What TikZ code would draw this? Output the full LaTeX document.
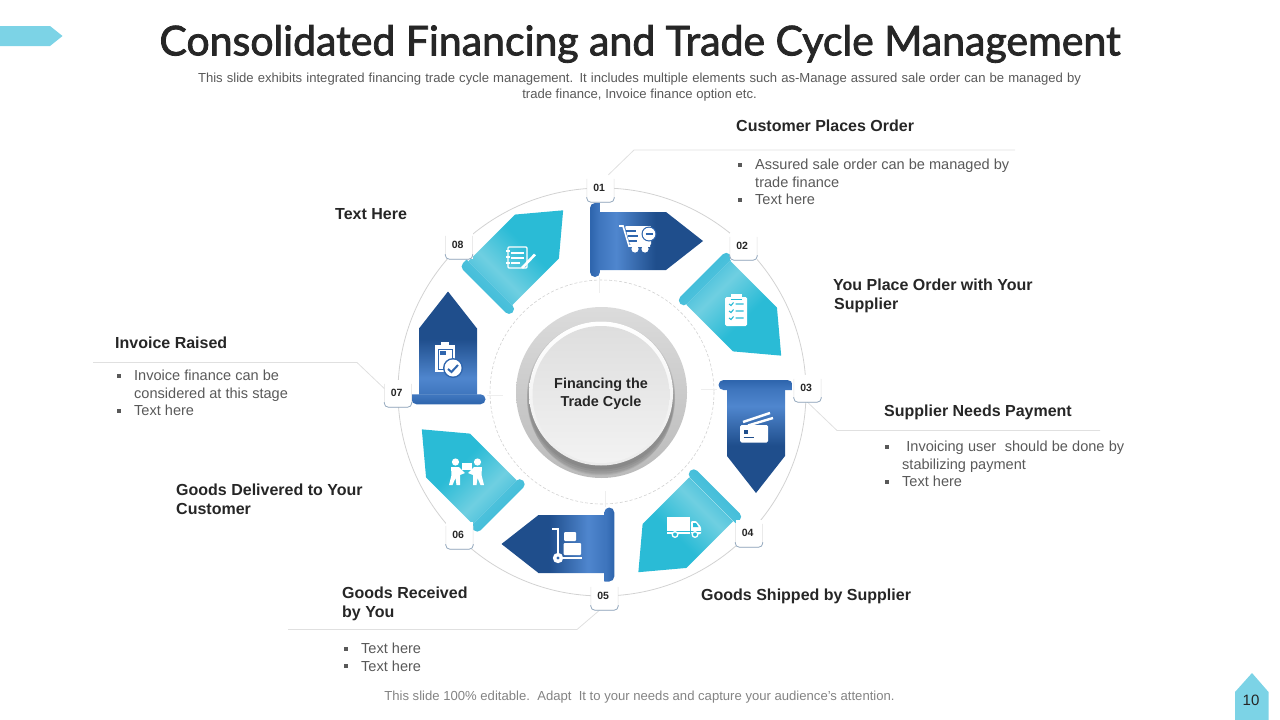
\documentclass[tikz,border=0pt]{standalone}
\usepackage{fontspec}
\setmainfont{Liberation Sans}
\newfontfamily\titlefont[FakeBold=2]{Lato}
\usepackage{xcolor}
\usetikzlibrary{arrows.meta,calc}
\definecolor{blueDark}{HTML}{1F4E8C}
\definecolor{blueMid}{HTML}{2F66AE}
\definecolor{blueStart}{HTML}{3F76BE}
\definecolor{blueLight}{HTML}{4F86CE}
\definecolor{tealDark}{HTML}{2ABBD6}
\definecolor{tealMid}{HTML}{3CBAD8}
\definecolor{tealStart}{HTML}{55C5DD}
\definecolor{tealLight}{HTML}{6FCFE1}
\definecolor{tagcyan}{HTML}{7CD3E6}
\definecolor{bodygrey}{HTML}{595959}
\definecolor{headgrey}{HTML}{262626}
\definecolor{ringgrey}{HTML}{D2D2D2}
\definecolor{leadgrey}{HTML}{E0E0E0}
\definecolor{edgeblue}{HTML}{8FA6BD}
\pgfdeclarehorizontalshading{bodyblue}{100bp}{color(0bp)=(blueStart); color(25bp)=(blueStart); color(33bp)=(blueLight); color(52bp)=(blueDark); color(100bp)=(blueDark)}
\pgfdeclarehorizontalshading{bodyteal}{100bp}{color(0bp)=(tealStart); color(30bp)=(tealStart); color(38bp)=(tealLight); color(58bp)=(tealDark); color(100bp)=(tealDark)}
\pgfdeclarehorizontalshading{bandblue}{100bp}{color(0bp)=(blueMid); color(30bp)=(blueMid); color(70bp)=(blueStart); color(100bp)=(blueStart)}
\pgfdeclarehorizontalshading{bandteal}{100bp}{color(0bp)=(tealMid); color(35bp)=(tealMid); color(65bp)=(tealStart); color(100bp)=(tealStart)}
\newcommand{\sqitem}{\makebox[17pt][l]{\rule[.22em]{3.7pt}{3.7pt}}}
\begin{document}
\begin{tikzpicture}[x=1pt,y=-1pt,
    every node/.style={inner sep=0pt},
    headtext/.style={anchor=west, align=left, text=headgrey, font=\fontsize{16}{19}\selectfont\bfseries},
    bodytext/.style={anchor=north west, align=left, text=bodygrey, font=\fontsize{14.55}{17.5}\selectfont},
    numbox/.style={fill=white, minimum size=27pt},
    leader/.style={draw=leadgrey, line width=0.8pt},
    whitefill/.style={fill=white, draw=none}
]
\useasboundingbox (0,0) rectangle (1280,720);
\fill[tagcyan] (0,26) -- (50,26) -- (62.5,36) -- (50,46) -- (0,46) -- cycle;
\fill[tagcyan] (1235,720) -- (1235,692) -- (1252,673) -- (1268.5,692) -- (1268.5,720) -- cycle;
\node[text=headgrey, font=\fontsize{15}{18}\selectfont] (pagenum) at (1251,700.5) {10};
\node[text=headgrey, font=\fontsize{41}{46}\titlefont] (title) at (640,44) {Consolidated Financing and Trade Cycle Management};
\node[text=bodygrey, align=center, font=\fontsize{13.1}{16}\selectfont] (subtitle) at (639.5,87) {\makebox[883pt][s]{This slide exhibits integrated financing trade cycle management. It includes multiple elements such as-Manage assured sale order can be managed by}\\trade finance, Invoice finance option etc.};
\node[text=bodygrey!75, font=\fontsize{13.1}{15}\selectfont] (footnote) at (639.5,697) {This slide 100\% editable.\ \ Adapt\ \ It to your needs and capture your audience's attention.};

\draw[ringgrey, line width=0.8pt] (602,392) circle (204);
\draw[ringgrey, line width=0.6pt, dash pattern=on 3pt off 2pt] (602,392) circle (112);
\foreach \ang in {0,90,180,270}
    \draw[leadgrey!55, line width=0.6pt, shift={(602,392)}, rotate=-\ang] (-3,-115) -- (-3,-99);

\foreach \ang/\bodyshade/\bandshade/\dx/\dy/\gr in {0/bodyblue/bandblue/0/0/0,45/bodyteal/bandteal/1/-1/2,90/bodyblue/bandblue/3/0/0,135/bodyteal/bandteal/1/2/2,180/bodyblue/bandblue/0.5/1/0,225/bodyteal/bandteal/-2/2/2,270/bodyblue/bandblue/-3/0.5/0,315/bodyteal/bandteal/-3.5/-3.5/2}{
    \begin{scope}[shift={(602+\dx,392+\dy)}, rotate=-\ang]
        \shade[shading=\bodyshade, shading angle=-\ang] (-2,-180-\gr) -- (64,-180-\gr) -- (101,-151) -- (64,-122+\gr) -- (-2,-122+\gr) -- cycle;
    \end{scope}
    \begin{scope}[shift={(602+\dx/2,392+\dy/2)}, rotate=-\ang]
        \shade[shading=\bandshade, shading angle=-\ang, rounded corners=5pt] (-2,-189+\gr) -- (-12,-189+\gr) -- (-12,-115-\gr) -- (-2,-115-\gr) [sharp corners] -- cycle;
    \end{scope}
}

\shade[top color=black!14, bottom color=black!27] (601.5,392.5) circle (85.5);
\foreach \off/\rad in {10/72,8/73,6/74,4/74,2/74}
    \fill[black, opacity=0.06] (601,393.5+\off) circle (\rad);
\shade[top color=white, bottom color=black!8] (601,393.5) circle (72);
\shade[top color=black!13, bottom color=black!5] (601,394.5) circle (68.5);
\node[align=center, text=headgrey, font=\fontsize{14.4}{18}\selectfont\bfseries] (hub) at (601,393.5) {Financing the\\Trade Cycle};

\foreach \nm/\px/\py in {1/600.5/188.5,2/743.5/246.5,3/807.5/388.5,4/749/533.5,5/604.5/596.5,6/459.5/535.5,7/398/393.5,8/459/245.5}
    \node[numbox] (num\nm) at (\px,\py) {};

\coordinate (knee1) at (634,150); \coordinate (end1) at (1015,150);
\coordinate (knee3) at (837,430.5); \coordinate (end3) at (1100,430.5);
\coordinate (knee5) at (577,629.5); \coordinate (end5) at (288,629.5);
\coordinate (knee7) at (357,362.5); \coordinate (end7) at (93,362.5);
\draw[leader] (num1.60) -- (knee1) -- (end1);
\draw[leader] (num3.south) -- (knee3) -- (end3);
\draw[leader] (num5.-110) -- (knee5) -- (end5);
\draw[leader] (num7.160) -- (knee7) -- (end7);

\foreach \nm in {1,...,8}{
    \draw[ringgrey!70, line width=0.5pt, rounded corners=4pt] ($(num\nm.north west)+(0,4)$) -- (num\nm.south west) -- (num\nm.south east) -- ($(num\nm.north east)+(0,4)$);
    \draw[edgeblue, line width=0.7pt, rounded corners=4pt] ($(num\nm.south west)+(0,-5)$) -- (num\nm.south west) -- (num\nm.south east) -- ($(num\nm.south east)+(0,-5)$);
    \node[text=headgrey, font=\fontsize{10.5}{12}\selectfont\bfseries] (lbl\nm) at ($(num\nm)+(-1.3,-0.5)$) {0\nm};
}

\node[headtext] (head1) at (736,126) {Customer Places Order};
\node[headtext] (head2) at (833,296) {You Place Order with Your\\[0pt]\hspace*{1pt}Supplier};
\node[headtext] (head3) at (884,412.7) {Supplier Needs Payment};
\node[headtext] (head4) at (701,596.7) {Goods Shipped by Supplier};
\node[headtext] (head5) at (342,604) {Goods Received\\by You};
\node[headtext] (head6) at (176,499.4) {Goods Delivered to Your\\Customer};
\node[headtext] (head7) at (115,343) {Invoice Raised};
\node[headtext] (head8) at (335,214) {Text Here};

\node[bodytext] (body1) at (738,159) {\sqitem Assured sale order can be managed by\\\hspace*{17pt}trade finance\\\sqitem Text here};
\node[bodytext] (body3) at (885,441) {\sqitem\makebox[222pt][s]{\ Invoicing user\ \ should be done by}\\\hspace*{17pt}stabilizing payment\\\sqitem Text here};
\node[bodytext] (body5) at (344,643) {\sqitem Text here\\\sqitem Text here};
\node[bodytext] (body7) at (117,370) {\sqitem Invoice finance can be\\\hspace*{17pt}considered at this stage\\\sqitem Text here};

\fill[whitefill, rounded corners=1pt] (625,226) -- (651,226) -- (651,245) -- (630,245) -- cycle;
\draw[white, line width=1.6pt] (619,226) -- (623,226) -- (629,246) -- (650,246);
\fill[white] (635,249) circle (3.6) (645,249) circle (3.6);
\fill[blueMid] (649,234) circle (7.5);
\fill[white] (649,234) circle (6.3);
\draw[blueMid, line width=1.2pt] (626,231) -- (636,231) (628,236) -- (638,236) (629,241) -- (637,241) (645.5,234) -- (652.5,234);

\fill[whitefill, rounded corners=1.5pt] (725,297) rectangle (747,326);
\draw[white, fill=white] (731,294) rectangle (741,300);
\draw[tealDark, line width=0.7pt] (730.5,299.5) -- (741.5,299.5);
\foreach \py in {304,311,318}
    \draw[tealDark, line width=1.1pt] (729,\py) -- (731,\py+1.5) -- (733.5,\py-1.5) (735.5,\py) -- (743.5,\py);

\draw[white, line width=2.4pt] (743,422) -- (770,413) (748,425.5) -- (773,418);
\fill[whitefill, rounded corners=1.5pt] (740,425) rectangle (768,442.5);
\fill[blueDark] (743.5,430) rectangle (748,433.5);
\draw[blueDark, line width=0.8pt] (743.5,437.5) -- (754,437.5);

\fill[whitefill] (667,517) rectangle (690,534);
\fill[whitefill, rounded corners=1pt] (691,521) -- (696,521) -- (701,527) -- (701,534) -- (691,534) -- cycle;
\fill[tealDark] (693,523) -- (696,523) -- (698.5,527) -- (693,527) -- cycle;
\draw[tealDark, line width=0.8pt] (667,531) -- (701,531);
\draw[white, fill=tealDark, line width=1.3pt] (675,534.5) circle (2.8) (695,534.5) circle (2.8);

\draw[white, line width=2pt] (552,529) -- (558,529) -- (558,555);
\draw[white, line width=2pt] (558,558) -- (582,558);
\fill[white] (558,558) circle (5.2);
\fill[blueMid] (558,558) circle (1.7);
\fill[whitefill, rounded corners=1pt] (563.5,543) rectangle (581,555);
\fill[whitefill, rounded corners=1pt] (564,532) rectangle (576,541);

\fill[white] (455.5,462) circle (3.6) (477.5,462) circle (3.6);
\fill[whitefill] (462,463) rectangle (472,470);
\fill[whitefill] (451,467) -- (459,467) -- (465,473) -- (460,475) -- (460,485) -- (456.5,485) -- (455.5,478) -- (452.5,485) -- (449,485) -- (451.5,475) -- cycle;
\fill[whitefill] (482,467) -- (474,467) -- (468,473) -- (473,475) -- (473,485) -- (476.5,485) -- (477.5,478) -- (480.5,485) -- (484,485) -- (481.5,475) -- cycle;

\fill[whitefill] (435,345) rectangle (455,372);
\fill[white] (441,342) rectangle (449,346);
\draw[blueMid, line width=0.5pt] (438,349) rectangle (452,369);
\fill[blueMid] (440,351) rectangle (446,355);
\fill[blueMid] (453,368) circle (10);
\fill[white] (453,368) circle (8.5);
\draw[blueMid, line width=2pt] (448,369) -- (451.5,372) -- (458,365);

\draw[white, line width=1.3pt, rounded corners=1pt] (508,247) rectangle (527,268);
\draw[white, line width=1.1pt] (511,253) -- (524,253) (511,258) -- (524,258) (511,263) -- (520,263) (506,251) -- (510,251) (506,257) -- (510,257) (506,263) -- (510,263);
\draw[white, line width=2.6pt] (522,268) -- (535,254.5);
\end{tikzpicture}
\end{document}
